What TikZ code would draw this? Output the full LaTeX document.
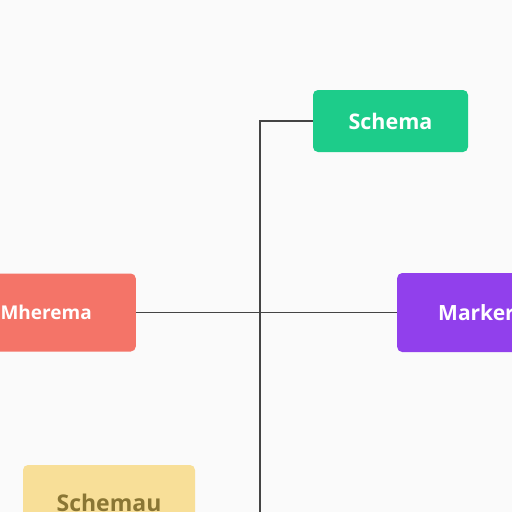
\documentclass[tikz,border=0pt]{standalone}
\usepackage{fontspec}
\setmainfont{Open Sans}
\usepackage{tikz}
\definecolor{bg}{HTML}{FAFAFA}
\definecolor{schgreen}{HTML}{1DCC8A}
\definecolor{mhred}{HTML}{F47468}
\definecolor{mkpurple}{HTML}{9140EC}
\definecolor{scyellow}{HTML}{F8DF98}
\definecolor{scbrown}{HTML}{8A7634}
\definecolor{wire}{HTML}{444444}

\begin{document}
\begin{tikzpicture}[x=1pt,y=-1pt,
  box/.style={rounded corners=5pt, inner ysep=0pt, text=white, font=\bfseries},
  wire/.style={draw=wire, line width=1.1pt}]
\fill[bg] (0,0) rectangle (512,512);
\useasboundingbox (0,0) rectangle (512,512);
\clip (0,0) rectangle (512,512);
% boxes
\node[box, fill=schgreen, minimum width=155pt, minimum height=62pt,
      font=\bfseries\fontsize{21.5}{24}\selectfont] (schema) at (390.5,121) {Schema};
\node[box, fill=mhred, anchor=east, text width=120pt, align=right, inner xsep=44pt,
      minimum height=78pt, font=\bfseries\fontsize{19}{22}\selectfont] (mherema) at (136,312.5) {Mherema};
\node[box, fill=mkpurple, anchor=west, text width=120pt, align=left, inner xsep=41pt,
      minimum height=79pt, font=\bfseries\fontsize{21}{24}\selectfont] (marker) at (397,312.5) {Marker};
\node[box, fill=scyellow, text=scbrown, minimum width=172pt, minimum height=76pt,
      font=\bfseries\fontsize{23}{26}\selectfont] (schemau) at (109,503) {Schemau};
\coordinate (foot) at (260,520);
% connectors
\draw[wire] (schema.west) -| (foot);
\draw[wire] (mherema.east) -- (marker.west);
\end{tikzpicture}
\end{document}
